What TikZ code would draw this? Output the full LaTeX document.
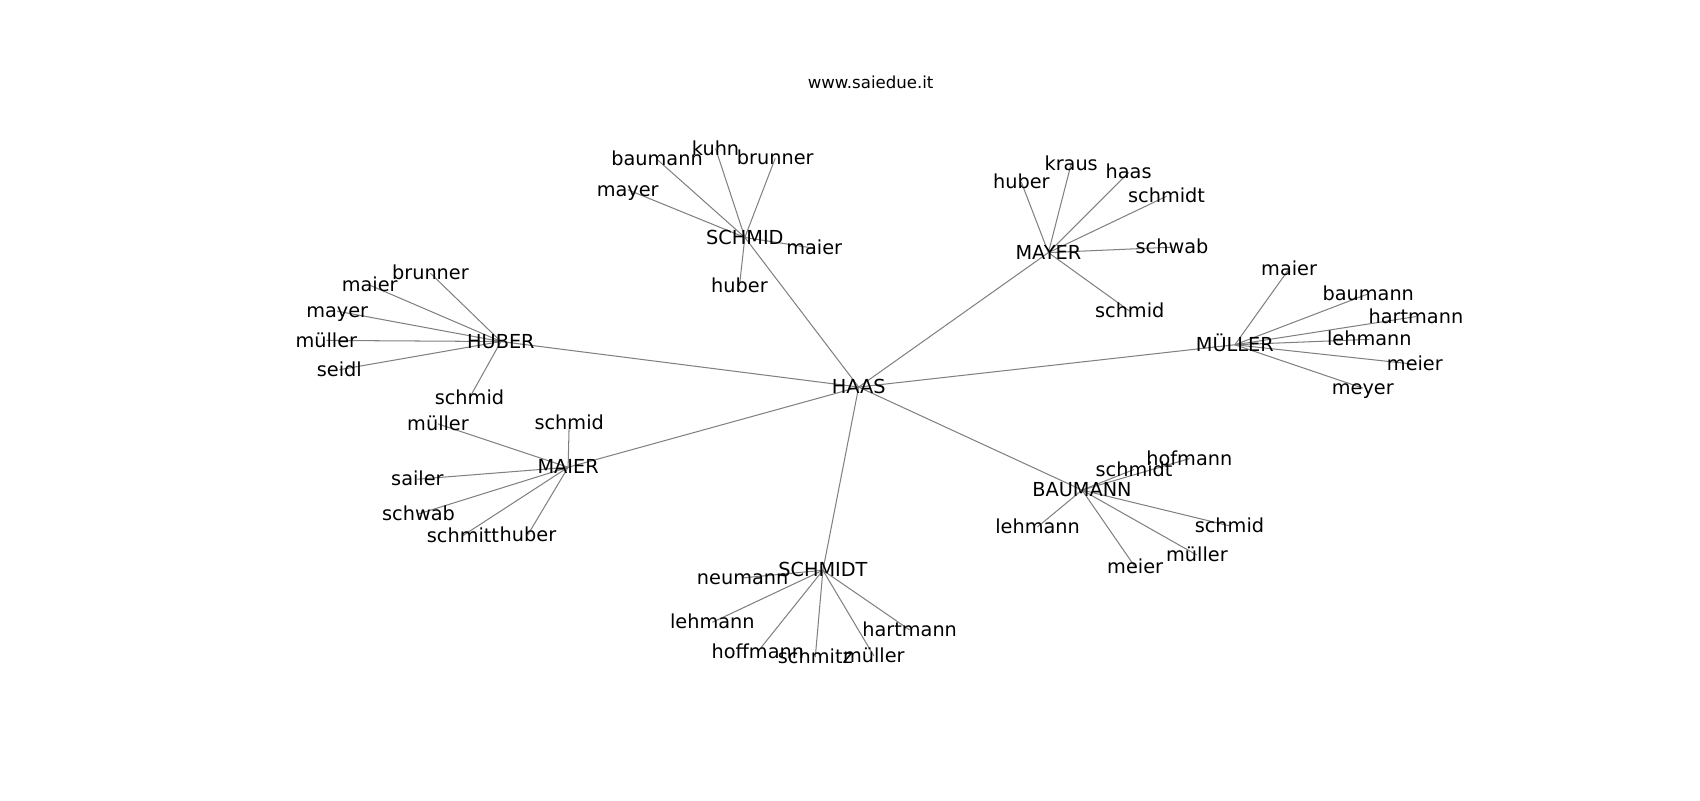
\documentclass[tikz,border=0pt]{standalone}
\usepackage{fontspec}
\setmainfont{DejaVu Sans}
\begin{document}
\begin{tikzpicture}[x=1pt,y=-1pt,
  lbl/.style={inner sep=0pt,text height=0.74em,text depth=0.22em,yshift=-3.5pt,font=\fontsize{17.8}{20}\selectfont},
  ttl/.style={inner sep=0pt,font=\fontsize{15.3}{18}\selectfont},
  edge/.style={draw={rgb,255:red,128;green,128;blue,128},line width=0.95pt}]
\useasboundingbox (0,0) rectangle (1568,738);
% title
\node[ttl] (title) at (803,76) {www.saiedue.it};
% coordinates
\coordinate (HAAS) at (792,357);
\coordinate (SCHMID) at (687,219);
\coordinate (MAYER) at (967,233);
\coordinate (HUBER) at (462,315);
\coordinate (MUELLER) at (1139,318);
\coordinate (MAIER) at (524,431);
\coordinate (SCHMIDT) at (759,526);
\coordinate (BAUMANN) at (998,452);
% SCHMID leaves
\coordinate (s1) at (606,147);
\coordinate (s2) at (660,137);
\coordinate (s3) at (715,146);
\coordinate (s4) at (579,175);
\coordinate (s5) at (751,229);
\coordinate (s6) at (682,264);
% MAYER leaves
\coordinate (m1) at (942,168);
\coordinate (m2) at (988,151);
\coordinate (m3) at (1041,159);
\coordinate (m4) at (1076,181);
\coordinate (m5) at (1081,228);
\coordinate (m6) at (1042,287);
% HUBER leaves
\coordinate (h1) at (397,252);
\coordinate (h2) at (341,263);
\coordinate (h3) at (311,287);
\coordinate (h4) at (301,314);
\coordinate (h5) at (313,341);
\coordinate (h6) at (433,367);
% MUELLER leaves
\coordinate (u1) at (1189,248);
\coordinate (u2) at (1262,271);
\coordinate (u3) at (1306,292);
\coordinate (u4) at (1263,313);
\coordinate (u5) at (1305,336);
\coordinate (u6) at (1257,358);
% MAIER leaves
\coordinate (a1) at (525,390);
\coordinate (a2) at (404,391);
\coordinate (a3) at (385,442);
\coordinate (a4) at (386,474);
\coordinate (a5) at (427,494);
\coordinate (a6) at (487,493);
% SCHMIDT leaves
\coordinate (t1) at (685,533);
\coordinate (t2) at (657,574);
\coordinate (t3) at (699,601);
\coordinate (t4) at (752,606);
\coordinate (t5) at (806,605);
\coordinate (t6) at (839,581);
% BAUMANN leaves
\coordinate (b1) at (1046,433);
\coordinate (b2) at (1097,423);
\coordinate (b3) at (957,486);
\coordinate (b4) at (1134,485);
\coordinate (b5) at (1104,512);
\coordinate (b6) at (1047,523);
% edges
\foreach \h in {SCHMID,MAYER,HUBER,MUELLER,MAIER,SCHMIDT,BAUMANN}
  \draw[edge] (HAAS) -- (\h);
\foreach \l in {s1,s2,s3,s4,s5,s6} \draw[edge] (SCHMID) -- (\l);
\foreach \l in {m1,m2,m3,m4,m5,m6} \draw[edge] (MAYER) -- (\l);
\foreach \l in {h1,h2,h3,h4,h5,h6} \draw[edge] (HUBER) -- (\l);
\foreach \l in {u1,u2,u3,u4,u5,u6} \draw[edge] (MUELLER) -- (\l);
\foreach \l in {a1,a2,a3,a4,a5,a6} \draw[edge] (MAIER) -- (\l);
\foreach \l in {t1,t2,t3,t4,t5,t6} \draw[edge] (SCHMIDT) -- (\l);
\foreach \l in {b1,b2,b3,b4,b5,b6} \draw[edge] (BAUMANN) -- (\l);
% labels
\node[lbl] (nHAAS) at (HAAS) {HAAS};
\node[lbl] (nSCHMID) at (SCHMID) {SCHMID};
\node[lbl] (nMAYER) at (MAYER) {MAYER};
\node[lbl] (nHUBER) at (HUBER) {HUBER};
\node[lbl] (nMUELLER) at (MUELLER) {MÜLLER};
\node[lbl] (nMAIER) at (MAIER) {MAIER};
\node[lbl] (nSCHMIDT) at (SCHMIDT) {SCHMIDT};
\node[lbl] (nBAUMANN) at (BAUMANN) {BAUMANN};
\node[lbl] (ns1) at (s1) {baumann};
\node[lbl] (ns2) at (s2) {kuhn};
\node[lbl] (ns3) at (s3) {brunner};
\node[lbl] (ns4) at (s4) {mayer};
\node[lbl] (ns5) at (s5) {maier};
\node[lbl] (ns6) at (s6) {huber};
\node[lbl] (nm1) at (m1) {huber};
\node[lbl] (nm2) at (m2) {kraus};
\node[lbl] (nm3) at (m3) {haas};
\node[lbl] (nm4) at (m4) {schmidt};
\node[lbl] (nm5) at (m5) {schwab};
\node[lbl] (nm6) at (m6) {schmid};
\node[lbl] (nh1) at (h1) {brunner};
\node[lbl] (nh2) at (h2) {maier};
\node[lbl] (nh3) at (h3) {mayer};
\node[lbl] (nh4) at (h4) {müller};
\node[lbl] (nh5) at (h5) {seidl};
\node[lbl] (nh6) at (h6) {schmid};
\node[lbl] (nu1) at (u1) {maier};
\node[lbl] (nu2) at (u2) {baumann};
\node[lbl] (nu3) at (u3) {hartmann};
\node[lbl] (nu4) at (u4) {lehmann};
\node[lbl] (nu5) at (u5) {meier};
\node[lbl] (nu6) at (u6) {meyer};
\node[lbl] (na1) at (a1) {schmid};
\node[lbl] (na2) at (a2) {müller};
\node[lbl] (na3) at (a3) {sailer};
\node[lbl] (na4) at (a4) {schwab};
\node[lbl] (na5) at (a5) {schmitt};
\node[lbl] (na6) at (a6) {huber};
\node[lbl] (nt1) at (t1) {neumann};
\node[lbl] (nt2) at (t2) {lehmann};
\node[lbl] (nt3) at (t3) {hoffmann};
\node[lbl] (nt4) at (t4) {schmitz};
\node[lbl] (nt5) at (t5) {müller};
\node[lbl] (nt6) at (t6) {hartmann};
\node[lbl] (nb1) at (b1) {schmidt};
\node[lbl] (nb2) at (b2) {hofmann};
\node[lbl] (nb3) at (b3) {lehmann};
\node[lbl] (nb4) at (b4) {schmid};
\node[lbl] (nb5) at (b5) {müller};
\node[lbl] (nb6) at (b6) {meier};
\end{tikzpicture}
\end{document}
